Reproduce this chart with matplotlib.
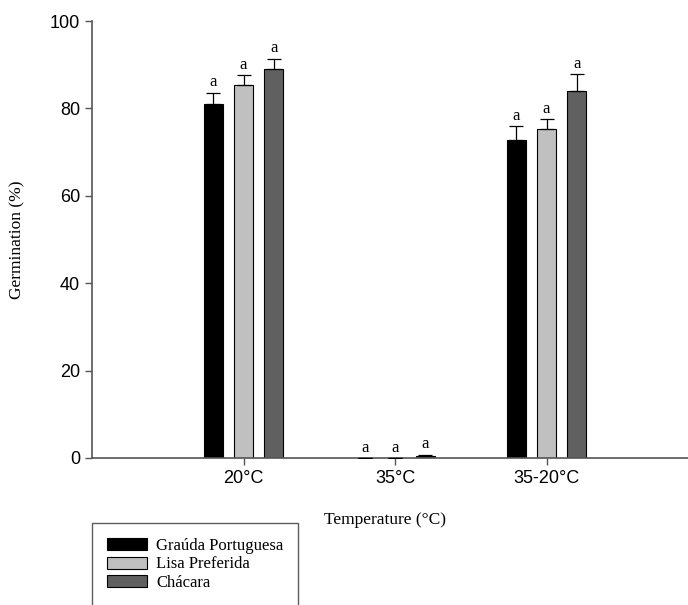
import matplotlib
matplotlib.use("Agg")
import matplotlib.pyplot as plt
import numpy as np

# ---------------------------------------------------------------------------
# Data
# ---------------------------------------------------------------------------
temperatures = ["20°C", "35°C", "35-20°C"]
cultivars = ["Graúda Portuguesa", "Lisa Preferida", "Chácara"]
germination = {
    "Graúda Portuguesa": [81.1, 0.0, 72.8],
    "Lisa Preferida":    [85.4, 0.0, 75.3],
    "Chácara":           [89.0, 0.5, 84.0],
}
errors = {
    "Graúda Portuguesa": [2.5, 0.0, 3.2],
    "Lisa Preferida":    [2.3, 0.0, 2.2],
    "Chácara":           [2.4, 0.3, 3.9],
}
letters = {
    "Graúda Portuguesa": ["a", "a", "a"],
    "Lisa Preferida":    ["a", "a", "a"],
    "Chácara":           ["a", "a", "a"],
}

colors = {"Graúda Portuguesa": "#000000",
          "Lisa Preferida": "#c0c0c0",
          "Chácara": "#606060"}
offsets = [-0.2, 0.0, 0.2]
width = 0.125

SERIF = "Liberation Serif"
SANS = "Liberation Sans"
AXIS_GRAY = "#555555"

fig = plt.figure(figsize=(6.88, 6.05), dpi=100)
# axes spans x 92 -> ~698 px (right end clipped), y 21 -> 458 px
ax = fig.add_axes([92 / 688, 1 - 458 / 605, 606 / 688, 437 / 605])

x = np.arange(len(temperatures))
handles = []
for cv, off in zip(cultivars, offsets):
    vals = germination[cv]
    errs = errors[cv]
    b = ax.bar(x + off, vals, width, color=colors[cv], edgecolor="black",
               linewidth=0.8, label=cv, zorder=2)
    handles.append(b)
    ax.errorbar(x + off, vals, yerr=[np.zeros(len(errs)), errs], fmt="none",
                ecolor="black", elinewidth=0.9, capsize=5, capthick=0.9, zorder=3)
    for xi, v, e, lt in zip(x + off, vals, errs, letters[cv]):
        ax.text(xi, v + e + 0.5, lt, ha="center", va="bottom",
                family=SERIF, fontsize=12)

ax.set_xlim(-1, 3)
ax.set_ylim(0, 100)
ax.set_yticks(range(0, 101, 20))
ax.set_xticks(x)
ax.set_xticklabels(temperatures)
for lab in ax.get_xticklabels() + ax.get_yticklabels():
    lab.set_family(SANS)
    lab.set_fontsize(13)

for side in ("top", "right"):
    ax.spines[side].set_visible(False)
for side in ("left", "bottom"):
    ax.spines[side].set_color(AXIS_GRAY)
    ax.spines[side].set_linewidth(1.2)
ax.tick_params(axis="both", direction="out", color=AXIS_GRAY, length=5, width=1)

ax.set_xlabel("Temperature (°C)", family=SERIF, fontsize=12.5)
ax.set_ylabel("Germination (%)", family=SERIF, fontsize=12.5)
ax.xaxis.set_label_coords((385 - 92) / 606, -(512 - 458) / 437)
ax.yaxis.set_label_coords((25 - 92) / 606, 0.5)

leg = fig.legend(handles=handles, labels=cultivars, loc="upper left",
                 bbox_to_anchor=(92 / 688, 1 - 523 / 605),
                 prop={"family": SERIF, "size": 12}, frameon=True,
                 fancybox=False, edgecolor="#333333", handlelength=2.4,
                 handleheight=0.75, labelspacing=0.15, borderpad=0.9,
                 handletextpad=0.55, borderaxespad=0)
leg.get_frame().set_linewidth(1.0)

fig.savefig("out.png", dpi=100)
